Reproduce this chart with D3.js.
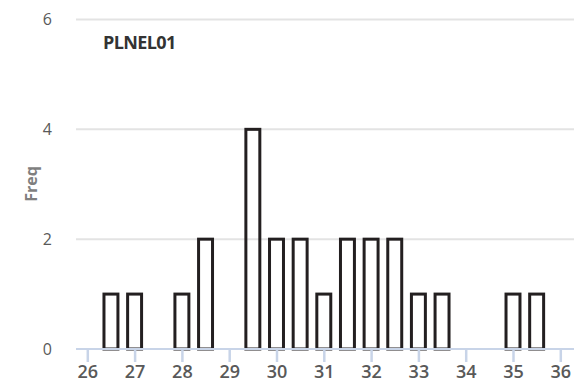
<!DOCTYPE html>
<html><head><meta charset="utf-8">
<script src="https://cdn.jsdelivr.net/npm/d3@7"></script>
<style>body{margin:0;background:#fff}svg{display:block}</style>
</head><body>
<svg id="c" width="574" height="382"></svg>
<script>
const binCenters = [26.5, 27, 28, 28.5, 29.5, 30, 30.5, 31, 31.5, 32, 32.5, 33, 33.5, 35, 35.5];
const freqs      = [1, 1, 1, 2, 4, 2, 2, 1, 2, 2, 2, 1, 1, 1, 1];
const xTicks = [26, 27, 28, 29, 30, 31, 32, 33, 34, 35, 36];
const yTicks = [0, 2, 4, 6];
const title = "PLNEL01";
const yTitle = "Freq";

const svg = d3.select("#c");
const pLeft = 76, pRight = 574, pTop = 19.5, pBottom = 349;
const x = d3.scaleLinear().domain([26, 36]).range([87.3, 560.3]);
const y = d3.scaleLinear().domain([0, 6]).range([pBottom, pTop]);

// gridlines
svg.append("g").selectAll("line").data(yTicks.filter(d => d > 0)).join("line")
  .attr("x1", pLeft).attr("x2", pRight)
  .attr("y1", d => y(d)).attr("y2", d => y(d))
  .attr("stroke", "#e3e3e3").attr("stroke-width", 2);

// y labels
svg.append("g").selectAll("text").data(yTicks).join("text")
  .attr("x", 52).attr("y", d => y(d)).attr("dy", "0.36em")
  .attr("text-anchor", "end")
  .attr("font-family", "Open Sans, sans-serif").attr("font-size", 16)
  .attr("fill", "#595959").text(d => d);

// bars
const bw = 0.295; // in data units, inner
svg.append("g").selectAll("rect").data(binCenters).join("rect")
  .attr("x", d => x(d - bw / 2))
  .attr("width", d => x(d + bw / 2) - x(d - bw / 2))
  .attr("y", (d, i) => y(freqs[i]))
  .attr("height", (d, i) => y(0) - y(freqs[i]))
  .attr("fill", "none").attr("stroke", "#231f20").attr("stroke-width", 3);

// x axis
const xAxis = d3.axisBottom(x).tickValues(xTicks).tickSize(13).tickPadding(3).tickFormat(d3.format("d"));
const gx = svg.append("g").attr("transform", `translate(0,${pBottom})`).call(xAxis);
gx.select(".domain").remove();
gx.selectAll(".tick line").attr("stroke", "#c8d4e8").attr("stroke-width", 2.5);
gx.selectAll(".tick text").attr("font-family", "Open Sans, sans-serif").attr("font-size", 18)
  .attr("font-weight", 600).attr("fill", "#595959");
svg.append("line").attr("x1", pLeft).attr("x2", pRight).attr("y1", pBottom).attr("y2", pBottom)
  .attr("stroke", "#c8d4e8").attr("stroke-width", 2);

// titles
svg.append("text").attr("x", 103).attr("y", 49)
  .attr("font-family", "Open Sans, sans-serif").attr("font-weight", "bold").attr("font-size", 18)
  .attr("fill", "#333").attr("letter-spacing", -0.6).text(title);
svg.append("text").attr("transform", `translate(37,184) rotate(-90)`)
  .attr("text-anchor", "middle")
  .attr("font-family", "Open Sans, sans-serif").attr("font-weight", "bold").attr("font-size", 16)
  .attr("fill", "#7f7f7f").text(yTitle);
</script>
</body></html>
